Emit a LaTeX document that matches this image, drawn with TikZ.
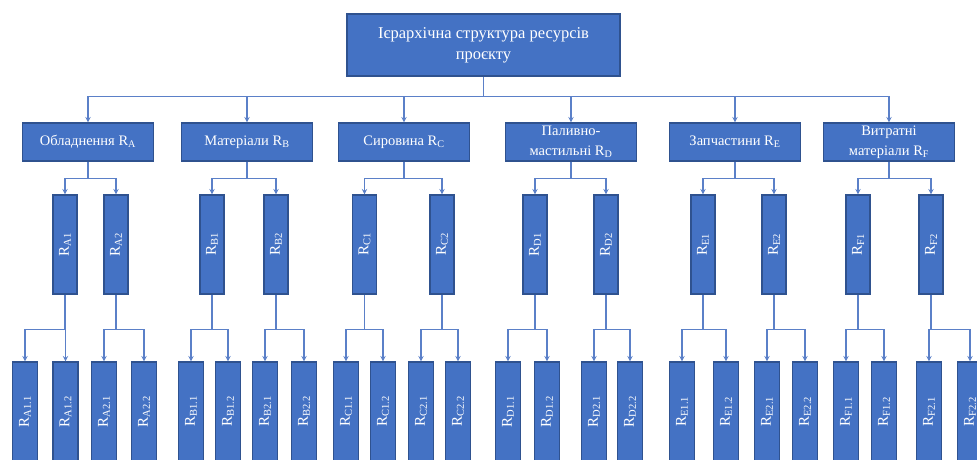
\documentclass[tikz,border=0pt]{standalone}
\usepackage{fontspec}
\setmainfont{Liberation Serif}
\usepackage{graphicx}
\usetikzlibrary{shapes.geometric, arrows, calc}
\definecolor{boxblue}{HTML}{4472C4}
\definecolor{boxedge}{HTML}{2F528F}
\definecolor{linkblue}{HTML}{5B80C8}
\newcommand{\vres}[1]{\rotatebox{90}{R\textsubscript{#1}}}
\tikzstyle{root} = [rectangle, minimum width=273pt, minimum height=62pt, text centered, align=center, draw=boxedge, fill=boxblue, text=white, line width=1.2pt, font=\fontsize{16.5}{21}\selectfont]
\tikzstyle{group} = [rectangle, minimum width=131pt, minimum height=38pt, text centered, align=center, inner sep=1pt, draw=boxedge, fill=boxblue, text=white, line width=1.2pt, font=\fontsize{14.5}{20}\selectfont]
\tikzstyle{res} = [rectangle, minimum width=24pt, minimum height=99pt, inner sep=0pt, draw=boxedge, fill=boxblue, text=white, line width=1.2pt, font=\fontsize{15}{17}\selectfont]
\tikzstyle{subres} = [res, minimum width=25pt]
\tikzstyle{arrow} = [line width=1.4pt, draw=linkblue, ->, >=stealth]
\tikzstyle{line} = [line width=1.4pt, draw=linkblue, -]

\begin{document}
\begin{tikzpicture}[x=1pt, y=-1pt]
        \useasboundingbox (0,0) rectangle (977,459);
        % \draw[help lines] (0,0) grid (977,459);
        \node (ROOT) [root] at (483.5,45) {Ієрархічна структура ресурсів\\ проєкту};

        \node (A) [group] at (88,142) {Обладнення R\textsubscript{A}};
        \node (B) [group] at (247,142) {Матеріали R\textsubscript{B}};
        \node (C) [group] at (404,142) {Сировина R\textsubscript{C}};
        \node (D) [group] at (571,142) {Паливно-\\ мастильні R\textsubscript{D}};
        \node (E) [group] at (735,142) {Запчастини R\textsubscript{E}};
        \node (F) [group] at (889,142) {Витратні\\ матеріали R\textsubscript{F}};

        \node (A1) [res] at (65,244.5) {\vres{A1}};
        \node (A2) [res] at (116,244.5) {\vres{A2}};
        \node (B1) [res] at (212,244.5) {\vres{B1}};
        \node (B2) [res] at (276,244.5) {\vres{B2}};
        \node (C1) [res] at (364.5,244.5) {\vres{C1}};
        \node (C2) [res] at (442,244.5) {\vres{C2}};
        \node (D1) [res] at (535,244.5) {\vres{D1}};
        \node (D2) [res] at (606,244.5) {\vres{D2}};
        \node (E1) [res] at (703,244.5) {\vres{E1}};
        \node (E2) [res] at (774,244.5) {\vres{E2}};
        \node (F1) [res] at (858,244.5) {\vres{F1}};
        \node (F2) [res] at (931,244.5) {\vres{F2}};

        \node (A11) [subres] at (25,411.5) {\vres{A1.1}};
        \node (A12) [subres] at (65.5,411.5) {\vres{A1.2}};
        \node (A21) [subres] at (104,411.5) {\vres{A2.1}};
        \node (A22) [subres] at (144,411.5) {\vres{A2.2}};
        \node (B11) [subres] at (191,411.5) {\vres{B1.1}};
        \node (B12) [subres] at (228,411.5) {\vres{B1.2}};
        \node (B21) [subres] at (265,411.5) {\vres{B2.1}};
        \node (B22) [subres] at (304,411.5) {\vres{B2.2}};
        \node (C11) [subres] at (346,411.5) {\vres{C1.1}};
        \node (C12) [subres] at (383,411.5) {\vres{C1.2}};
        \node (C21) [subres] at (421,411.5) {\vres{C2.1}};
        \node (C22) [subres] at (458,411.5) {\vres{C2.2}};
        \node (D11) [subres] at (508,411.5) {\vres{D1.1}};
        \node (D12) [subres] at (547,411.5) {\vres{D1.2}};
        \node (D21) [subres] at (594,411.5) {\vres{D2.1}};
        \node (D22) [subres] at (630,411.5) {\vres{D2.2}};
        \node (E11) [subres] at (682,411.5) {\vres{E1.1}};
        \node (E12) [subres] at (726,411.5) {\vres{E1.2}};
        \node (E21) [subres] at (767,411.5) {\vres{E2.1}};
        \node (E22) [subres] at (805,411.5) {\vres{E2.2}};
        \node (F11) [subres] at (846,411.5) {\vres{F1.1}};
        \node (F12) [subres] at (884,411.5) {\vres{F1.2}};
        \node (F21) [subres] at (929,411.5) {\vres{F2.1}};
        \node (F22) [subres] at (970,411.5) {\vres{F2.2}};

        \coordinate (T) at ([yshift=-20pt]ROOT.south); % the bus under the root
        \draw [line] (ROOT) -- (T);
        \draw [arrow] (T) -| (A);
        \draw [arrow] (T) -| (B);
        \draw [arrow] (T) -| (C);
        \draw [arrow] (T) -| (D);
        \draw [arrow] (T) -| (E);
        \draw [arrow] (T) -| (F);

        % first level branches
        \coordinate (jA) at ([yshift=-17pt]A.south);
        \coordinate (jB) at ([yshift=-17pt]B.south);
        \coordinate (jC) at ([yshift=-17pt]C.south);
        \coordinate (jD) at ([yshift=-17pt]D.south);
        \coordinate (jE) at ([yshift=-17pt]E.south);
        \coordinate (jF) at ([yshift=-17pt]F.south);
        \draw [line] (A) -- (jA);
        \draw [arrow] (jA) -| (A1);
        \draw [arrow] (jA) -| (A2);
        \draw [line] (B) -- (jB);
        \draw [arrow] (jB) -| (B1);
        \draw [arrow] (jB) -| (B2);
        \draw [line] (C) -- (jC);
        \draw [arrow] (jC) -| (C1);
        \draw [arrow] (jC) -| (C2);
        \draw [line] (D) -- (jD);
        \draw [arrow] (jD) -| (D1);
        \draw [arrow] (jD) -| (D2);
        \draw [line] (E) -- (jE);
        \draw [arrow] (jE) -| (E1);
        \draw [arrow] (jE) -| (E2);
        \draw [line] (F) -- (jF);
        \draw [arrow] (jF) -| (F1);
        \draw [arrow] (jF) -| (F2);

        % second level branches
        \coordinate (jA1) at ([yshift=-35pt]A1.south);
        \coordinate (jA2) at ([yshift=-35pt]A2.south);
        \coordinate (jB1) at ([yshift=-35pt]B1.south);
        \coordinate (jB2) at ([yshift=-35pt]B2.south);
        \coordinate (jC1) at ([yshift=-35pt]C1.south);
        \coordinate (jC2) at ([yshift=-35pt]C2.south);
        \coordinate (jD1) at ([yshift=-35pt]D1.south);
        \coordinate (jD2) at ([yshift=-35pt]D2.south);
        \coordinate (jE1) at ([yshift=-35pt]E1.south);
        \coordinate (jE2) at ([yshift=-35pt]E2.south);
        \coordinate (jF1) at ([yshift=-35pt]F1.south);
        \coordinate (jF2) at ([yshift=-35pt]F2.south);
        \draw [line] (A1) -- (jA1);
        \draw [arrow] (jA1) -| (A11);
        \draw [arrow] (jA1) -| (A12);
        \draw [line] (A2) -- (jA2);
        \draw [arrow] (jA2) -| (A21);
        \draw [arrow] (jA2) -| (A22);
        \draw [line] (B1) -- (jB1);
        \draw [arrow] (jB1) -| (B11);
        \draw [arrow] (jB1) -| (B12);
        \draw [line] (B2) -- (jB2);
        \draw [arrow] (jB2) -| (B21);
        \draw [arrow] (jB2) -| (B22);
        \draw [line] (C1) -- (jC1);
        \draw [arrow] (jC1) -| (C11);
        \draw [arrow] (jC1) -| (C12);
        \draw [line] (C2) -- (jC2);
        \draw [arrow] (jC2) -| (C21);
        \draw [arrow] (jC2) -| (C22);
        \draw [line] (D1) -- (jD1);
        \draw [arrow] (jD1) -| (D11);
        \draw [arrow] (jD1) -| (D12);
        \draw [line] (D2) -- (jD2);
        \draw [arrow] (jD2) -| (D21);
        \draw [arrow] (jD2) -| (D22);
        \draw [line] (E1) -- (jE1);
        \draw [arrow] (jE1) -| (E11);
        \draw [arrow] (jE1) -| (E12);
        \draw [line] (E2) -- (jE2);
        \draw [arrow] (jE2) -| (E21);
        \draw [arrow] (jE2) -| (E22);
        \draw [line] (F1) -- (jF1);
        \draw [arrow] (jF1) -| (F11);
        \draw [arrow] (jF1) -| (F12);
        \draw [line] (F2) -- (jF2);
        \draw [arrow] (jF2) -| (F21);
        \draw [arrow] (jF2) -| (F22);

\end{tikzpicture}
\end{document}
